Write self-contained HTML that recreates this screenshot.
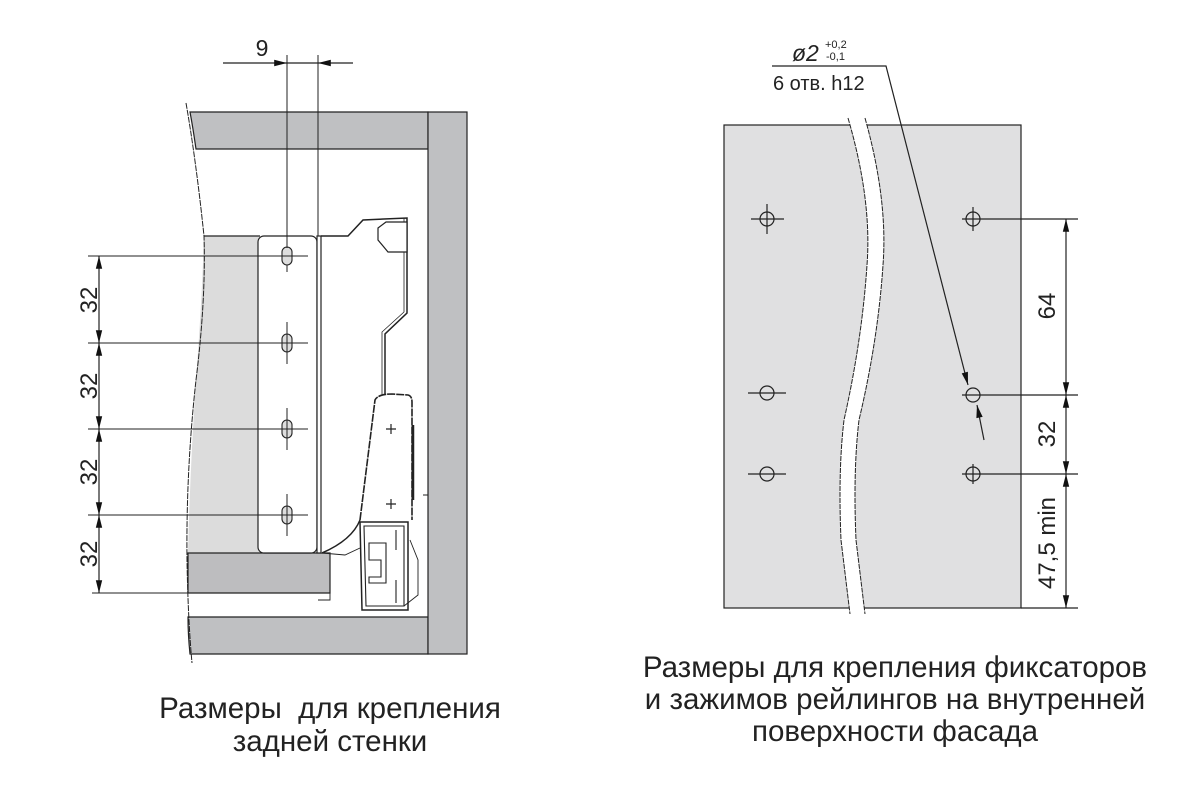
<!DOCTYPE html>
<html><head><meta charset="utf-8"><style>
html,body{margin:0;padding:0;background:#fff}
svg{display:block}
text{font-family:"Liberation Sans",Arial,sans-serif;fill:#222}
</style></head><body>
<svg width="1200" height="796" viewBox="0 0 1200 796" xmlns="http://www.w3.org/2000/svg">
<defs>
<marker id="ar2" viewBox="0 0 16 10" refX="16" refY="5" markerWidth="16" markerHeight="8" markerUnits="userSpaceOnUse" orient="auto-start-reverse">
<path d="M0,1 L16,5 L0,9 z" fill="#111"/></marker>
</defs>

<!-- LEFT DRAWING -->
<g stroke="#222" stroke-width="1.2">
<path d="M190,112 L428,112 L428,149 L196,149 Q193,128 190,112 z" fill="#bfc0c2"/>
<path d="M204,236 L260,236 L260,553 L188,553 Q190,470 196,380 Q202,300 204,236 z" fill="#dcdcdc" stroke="none"/>
<line x1="204" y1="236" x2="260" y2="236"/>
<path d="M188,553 L330,553 L330,593 L188,593 z" fill="#bdbdbf"/>
<path d="M188,617 L428,617 L428,654 L190,654 Q188,635 188,617 z" fill="#bfc0c2"/>
<rect x="428" y="112" width="39" height="542" fill="#bfc0c2"/>
<path d="M186,103 Q196,160 204,236 Q206,300 196,380 Q186,470 187,560 Q188,620 192,663" fill="none" stroke-width="1" stroke-dasharray="6,1"/>
<rect x="258" y="236" width="59" height="317" rx="6" fill="#fff"/>
<rect x="317" y="236" width="4" height="317" fill="#fff"/>
<path d="M321,236 L348,236 L363,220 L407,218 L407,313 L385,334 L385,400" fill="none" stroke-width="1.5"/>
<path d="M404,218 L404,312 L382,332 L382,398" fill="none" stroke-width="0.8"/>
<path d="M378,228 L386,222 L407,222 L407,252 L388,252 L378,240 z" fill="#fff"/>
<path d="M375,397 Q378,394 392,394 L408,395 Q412,396 412,402 L412,520 L360,520 Q356,540 340,545 L321,553 L360,522 Z" fill="#fff" stroke="none"/>
<path d="M360,520 L375,400 Q378,394 392,394 L408,395 Q412,396 412,402 L412,520" fill="none" stroke-width="1.6" stroke-dasharray="8,1"/>
<path d="M360,520 Q352,540 322,553" fill="none" stroke-width="1.5"/>
<line x1="413" y1="425" x2="413" y2="500" stroke-width="2.5"/>
<path d="M386,429 h10 M391,424 v10 M386,504 h10 M391,499 v10" />
<path d="M360,522 L408,522 L408,610 L362,610 Z" fill="#fff" stroke-width="1.5"/>
<path d="M364,526 L404,526 L404,606 L366,606 Z M369,543 L386,543 L386,583 L369,583 L369,577 L381,577 L381,560 L369,560 Z M396,530 L396,550 M396,580 L396,603" fill="none" stroke-width="1.1"/>
<path d="M322,553 L345,555 L360,548 M330,553 L330,600 L318,600" fill="none" stroke-width="0.9"/>
<path d="M423,495 L428,495 L428,612 M410,540 L418,560 L418,595 L404,606" fill="none" stroke-width="0.9"/>
<g fill="#ddd" stroke-width="1.1">
<rect x="282" y="247" width="10" height="18" rx="5"/>
<rect x="282" y="334" width="10" height="18" rx="5"/>
<rect x="282" y="420" width="10" height="18" rx="5"/>
<rect x="282" y="506" width="10" height="18" rx="5"/>
</g>
<g stroke-width="1">
<line x1="287" y1="55" x2="287" y2="248"/>
<line x1="287" y1="265" x2="287" y2="272"/>
<line x1="287" y1="322" x2="287" y2="364"/>
<line x1="287" y1="408" x2="287" y2="450"/>
<line x1="287" y1="494" x2="287" y2="536"/>
<line x1="318" y1="55" x2="318" y2="236"/>
<line x1="88" y1="256" x2="308" y2="256"/>
<line x1="88" y1="343" x2="308" y2="343"/>
<line x1="88" y1="429" x2="308" y2="429"/>
<line x1="88" y1="515" x2="308" y2="515"/>
<line x1="92" y1="593" x2="188" y2="593"/>
</g>
<g stroke-width="1.2">
<line x1="99" y1="256" x2="99" y2="343" marker-start="url(#ar2)" marker-end="url(#ar2)"/>
<line x1="99" y1="343" x2="99" y2="429" marker-start="url(#ar2)" marker-end="url(#ar2)"/>
<line x1="99" y1="429" x2="99" y2="515" marker-start="url(#ar2)" marker-end="url(#ar2)"/>
<line x1="99" y1="515" x2="99" y2="593" marker-start="url(#ar2)" marker-end="url(#ar2)"/>
<line x1="223" y1="63" x2="287" y2="63" marker-end="url(#ar2)"/>
<line x1="353" y1="63" x2="318" y2="63" marker-end="url(#ar2)"/>
<line x1="287" y1="63" x2="318" y2="63"/>
</g>
</g>
<g font-size="24">
<text x="262" y="56" text-anchor="middle" font-size="23">9</text>
<text transform="translate(97,300) rotate(-90)" text-anchor="middle">32</text>
<text transform="translate(97,386) rotate(-90)" text-anchor="middle">32</text>
<text transform="translate(97,472) rotate(-90)" text-anchor="middle">32</text>
<text transform="translate(97,554) rotate(-90)" text-anchor="middle">32</text>
</g>

<!-- RIGHT DRAWING -->
<g stroke="#222" stroke-width="1.2">
<rect x="724" y="125" width="297" height="483" fill="#e0e0e1"/>
<path d="M848,118 Q872,200 867,265 Q862,340 844,420 Q838,470 841,540 L850,614 L865,614 L856,540 Q853,470 859,420 Q878,340 883,265 Q888,200 865,118 Z" fill="#fff" stroke="none"/>
<path d="M848,118 Q872,200 867,265 Q862,340 844,420 Q838,470 841,540 L850,614 M865,118 Q888,200 883,265 Q878,340 859,420 Q853,470 856,540 L865,614" fill="none" stroke-width="1" stroke-dasharray="5,1"/>
<g fill="none" stroke-width="1.2">
<circle cx="767" cy="219" r="7"/><path d="M751,219 h33 M767,204 v30"/>
<circle cx="767" cy="393" r="7"/><path d="M748,393 h38"/>
<circle cx="767" cy="474" r="7"/><path d="M748,474 h38"/>
<circle cx="973" cy="219" r="7"/><path d="M962,219 h116 M973,207 v24"/>
<circle cx="973" cy="395" r="7"/><path d="M962,395 h116"/>
<circle cx="973" cy="474" r="7"/><path d="M962,474 h116 M973,464 v20"/>
<path d="M1021,608 h57"/>
</g>
<line x1="1066" y1="219" x2="1066" y2="395" marker-start="url(#ar2)" marker-end="url(#ar2)"/>
<line x1="1066" y1="395" x2="1066" y2="474" marker-start="url(#ar2)" marker-end="url(#ar2)"/>
<line x1="1066" y1="474" x2="1066" y2="608" marker-start="url(#ar2)" marker-end="url(#ar2)"/>
<path d="M772,66 L886,66 L968,385" fill="none" marker-end="url(#ar2)"/>
<path d="M984,440 L977,405" fill="none" marker-end="url(#ar2)"/>
</g>
<g font-size="24">
<text transform="translate(1055,306) rotate(-90)" text-anchor="middle">64</text>
<text transform="translate(1055,434) rotate(-90)" text-anchor="middle">32</text>
<text transform="translate(1055,543) rotate(-90)" text-anchor="middle">47,5 min</text>
<text x="792" y="61" font-size="23" font-style="italic">ø2</text>
<text x="825" y="48" font-size="11">+0,2</text>
<text x="826" y="60" font-size="11">-0,1</text>
<text x="773" y="90" font-size="20">6 отв. h12</text>
</g>

<!-- CAPTIONS -->
<g font-size="29.5" text-anchor="middle">
<text x="330" y="718" xml:space="preserve">Размеры  для крепления</text>
<text x="330" y="751">задней стенки</text>
<text x="895" y="677">Размеры для крепления фиксаторов</text>
<text x="895" y="709">и зажимов рейлингов на внутренней</text>
<text x="895" y="741">поверхности фасада</text>
</g>
</svg>
</body></html>
